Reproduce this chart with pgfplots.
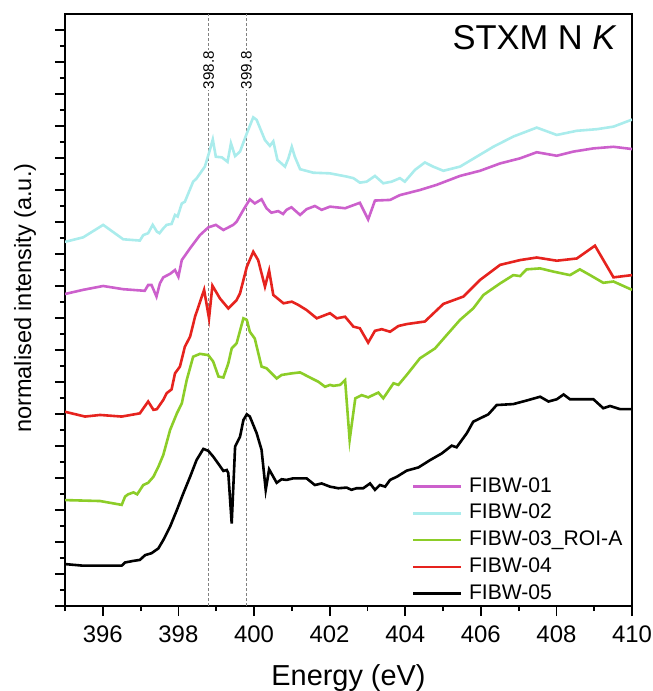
\documentclass[border=0pt]{standalone}
\usepackage{fontspec}
\setmainfont{Liberation Sans}
\usepackage{pgfplots}
\pgfplotsset{compat=1.18}
\definecolor{cmag}{RGB}{204,96,204}
\definecolor{ccyan}{RGB}{170,236,236}
\definecolor{cgreen}{RGB}{140,205,40}
\definecolor{cred}{RGB}{230,35,30}
\begin{document}
\begin{tikzpicture}
\begin{axis}[
  scale only axis, width=283.5bp, height=296bp,
  xmin=395, xmax=410, ymin=0, ymax=18.5,
  xtick={396,398,...,410}, minor xtick={395,397,...,409},
  ytick={0,1,...,18}, minor ytick={0.5,1.5,...,17.5}, yticklabels={},
  tick align=outside, tick pos=left,
  major tick length=5bp, minor tick length=2.5bp,
  every tick/.style={black, line width=0.9bp},
  axis line style={line width=0.9bp},
  /pgf/number format/assume math mode=true,
  xticklabel style={font=\fontsize{12}{12}\selectfont, yshift=-1.5bp},
  xlabel={Energy (eV)}, ylabel={normalised intensity (a.u.)},
  xlabel style={font=\fontsize{14.5}{14.5}\selectfont, at={(rel axis cs:0.5,0)}, anchor=base, yshift=-39.5bp},
  ylabel style={font=\fontsize{11.8}{11.8}\selectfont, at={(rel axis cs:0,0.52)}, anchor=center, yshift=20bp},
  every axis plot/.append style={line width=1.3bp, mark=none},
  legend image code/.code={\draw[#1] (0bp,0bp) -- (24bp,0bp);},
  legend cell align=left,
  legend style={draw=none, fill=none, inner sep=0pt, outer sep=0pt,
    anchor=south west, at={(rel axis cs:0.612,0.003)},
    font=\fontsize{10.6}{10.6}\selectfont,
    nodes={inner sep=0pt, text height=8bp, text depth=2.5bp},
    row sep=2.9bp, column sep=3.2bp},
]
\addplot[forget plot, gray, line width=0.5bp, dash pattern=on 1.5bp off 1bp] coordinates {(398.8,0) (398.8,18.5)};
\addplot[forget plot, gray, line width=0.5bp, dash pattern=on 1.5bp off 1bp] coordinates {(399.8,0) (399.8,18.5)};

\addplot[cmag] coordinates {(395.0,9.75)(395.48,9.88)(396.01,10.0)(396.54,9.90)(397.11,9.85)(397.20,10.03)(397.29,10.03)(397.42,9.67)(397.51,10.08)(397.60,10.27)(397.78,10.38)(397.91,10.50)(398.00,10.29)(398.09,10.81)(398.31,11.18)(398.57,11.59)(398.79,11.83)(398.99,11.91)(399.19,11.75)(399.45,11.91)(399.54,12.01)(399.72,12.38)(399.89,12.71)(400.02,12.58)(400.20,12.71)(400.33,12.43)(400.46,12.29)(400.64,12.34)(400.77,12.25)(400.86,12.38)(400.99,12.46)(401.22,12.22)(401.39,12.40)(401.61,12.50)(401.79,12.38)(402.01,12.48)(402.41,12.43)(402.80,12.60)(403.02,12.08)(403.20,12.67)(403.60,12.69)(403.86,12.84)(404.39,13.0)(404.83,13.16)(405.45,13.44)(405.98,13.60)(406.51,13.83)(407.04,13.99)(407.48,14.18)(408.01,14.07)(408.45,14.20)(408.98,14.30)(409.51,14.35)(410.0,14.28)};
\addlegendentry{FIBW-01}

\addplot[ccyan] coordinates {(395.0,11.38)(395.48,11.52)(396.01,11.91)(396.54,11.46)(396.98,11.42)(397.07,11.59)(397.20,11.65)(397.32,11.91)(397.43,11.70)(397.50,11.65)(397.60,11.80)(397.69,11.91)(397.82,11.94)(397.91,12.22)(397.98,12.17)(398.09,12.58)(398.17,12.63)(398.39,13.26)(398.48,13.36)(398.70,13.73)(398.82,14.20)(398.91,14.58)(398.99,14.04)(399.15,14.02)(399.30,13.88)(399.39,14.46)(399.50,14.06)(399.63,14.20)(399.81,14.77)(399.98,15.27)(400.07,15.19)(400.29,14.56)(400.42,14.38)(400.51,14.52)(400.62,13.94)(400.82,13.73)(400.91,13.99)(401.00,14.35)(401.08,14.04)(401.22,13.65)(401.57,13.54)(402.01,13.52)(402.45,13.42)(402.63,13.37)(402.80,13.23)(402.98,13.26)(403.20,13.44)(403.42,13.21)(403.64,13.26)(403.86,13.37)(403.99,13.26)(404.26,13.63)(404.52,13.86)(404.74,13.73)(405.01,13.60)(405.45,13.73)(405.89,14.04)(406.33,14.35)(406.86,14.67)(407.48,14.95)(408.01,14.72)(408.54,14.85)(409.07,14.90)(409.51,14.98)(410.0,15.20)};
\addlegendentry{FIBW-02}

\addplot[cgreen] coordinates {(395.0,3.31)(395.93,3.28)(396.50,3.16)(396.59,3.42)(396.67,3.49)(396.81,3.55)(396.91,3.49)(397.07,3.78)(397.20,3.85)(397.34,4.04)(397.47,4.35)(397.60,4.72)(397.78,5.50)(397.96,6.02)(398.09,6.33)(398.22,7.06)(398.39,7.79)(398.57,7.88)(398.79,7.84)(398.92,7.64)(399.06,7.17)(399.19,7.14)(399.32,7.58)(399.41,8.05)(399.54,8.21)(399.72,8.99)(399.81,8.94)(399.89,8.57)(400.02,8.36)(400.20,7.48)(400.33,7.43)(400.60,7.11)(400.73,7.22)(401.00,7.27)(401.22,7.30)(401.53,7.11)(401.70,7.01)(401.88,6.85)(402.01,6.91)(402.10,6.88)(402.28,6.91)(402.41,7.06)(402.53,5.19)(402.68,6.49)(402.85,6.59)(403.02,6.52)(403.29,6.67)(403.42,6.49)(403.69,6.96)(403.82,6.91)(404.04,7.22)(404.39,7.74)(404.79,8.05)(405.10,8.47)(405.45,8.94)(405.80,9.30)(406.07,9.72)(406.51,10.08)(406.86,10.34)(407.04,10.31)(407.21,10.52)(407.57,10.55)(407.92,10.45)(408.36,10.34)(408.62,10.52)(408.89,10.34)(409.24,10.10)(409.51,10.14)(410.0,9.88)};
\addlegendentry{FIBW-03\_ROI-A}

\addplot[cred] coordinates {(395.0,6.07)(395.53,5.92)(395.93,5.97)(396.50,5.92)(396.98,6.02)(397.20,6.39)(397.34,6.13)(397.43,6.15)(397.60,6.44)(397.69,6.65)(397.82,6.77)(397.91,7.27)(398.04,7.48)(398.17,8.10)(398.31,8.42)(398.44,9.04)(398.68,9.88)(398.81,8.99)(398.90,10.01)(399.10,9.61)(399.32,9.30)(399.54,9.56)(399.63,9.77)(399.81,10.60)(399.98,11.07)(400.11,10.81)(400.29,9.98)(400.40,10.48)(400.51,9.72)(400.78,9.46)(401.00,9.51)(401.17,9.41)(401.39,9.25)(401.66,8.99)(402.01,9.15)(402.19,8.99)(402.41,9.04)(402.63,8.73)(402.80,8.68)(403.02,8.23)(403.20,8.60)(403.38,8.65)(403.60,8.57)(403.82,8.75)(404.04,8.81)(404.52,8.89)(405.01,9.44)(405.54,9.67)(405.98,10.19)(406.51,10.66)(407.04,10.81)(407.48,10.89)(408.01,10.79)(408.54,10.86)(409.02,11.26)(409.51,10.27)(410.0,10.34)};
\addlegendentry{FIBW-04}

\addplot[black] coordinates {(395.0,1.31)(395.48,1.26)(396.50,1.26)(396.59,1.36)(396.81,1.41)(396.98,1.44)(397.12,1.59)(397.29,1.65)(397.47,1.80)(397.60,2.06)(397.78,2.48)(397.96,3.0)(398.13,3.52)(398.31,4.04)(398.48,4.56)(398.66,4.91)(398.79,4.85)(398.92,4.67)(399.06,4.44)(399.19,4.22)(399.28,4.25)(399.32,4.15)(399.41,2.58)(399.50,4.98)(399.63,5.29)(399.72,5.81)(399.81,5.99)(399.89,5.92)(400.07,5.40)(400.20,4.88)(400.31,3.63)(400.40,4.27)(400.60,3.85)(400.73,3.96)(400.86,3.94)(401.04,3.99)(401.39,3.99)(401.61,3.78)(401.79,3.83)(402.01,3.73)(402.23,3.68)(402.45,3.70)(402.58,3.63)(402.71,3.68)(402.89,3.68)(403.07,3.83)(403.20,3.63)(403.33,3.78)(403.47,3.73)(403.60,3.94)(403.78,4.04)(404.04,4.23)(404.35,4.33)(404.66,4.56)(404.97,4.77)(405.23,5.01)(405.36,4.96)(405.63,5.40)(405.80,5.76)(406.20,5.99)(406.42,6.28)(406.86,6.31)(407.21,6.42)(407.57,6.54)(407.79,6.39)(408.01,6.46)(408.19,6.61)(408.36,6.46)(408.98,6.46)(409.24,6.18)(409.42,6.25)(409.69,6.15)(410.0,6.15)};
\addlegendentry{FIBW-05}

\node[rotate=90, fill=white, inner sep=0.6bp, xshift=-1bp, font=\fontsize{7.6}{7.6}\selectfont] at (axis cs:398.8,16.81) {398.8};
\node[rotate=90, fill=white, inner sep=0.6bp, xshift=-1bp, font=\fontsize{7.6}{7.6}\selectfont] at (axis cs:399.8,16.81) {399.8};
\node[anchor=base east, inner sep=0pt, font=\fontsize{17.3}{17.3}\selectfont] at (rel axis cs:0.9735,0.9392) {STXM N \textit{K}};
\end{axis}
\pgfresetboundingbox
\path[use as bounding box] (-32.5bp,-42.5bp) rectangle (294bp,303bp);
\end{tikzpicture}
\end{document}
